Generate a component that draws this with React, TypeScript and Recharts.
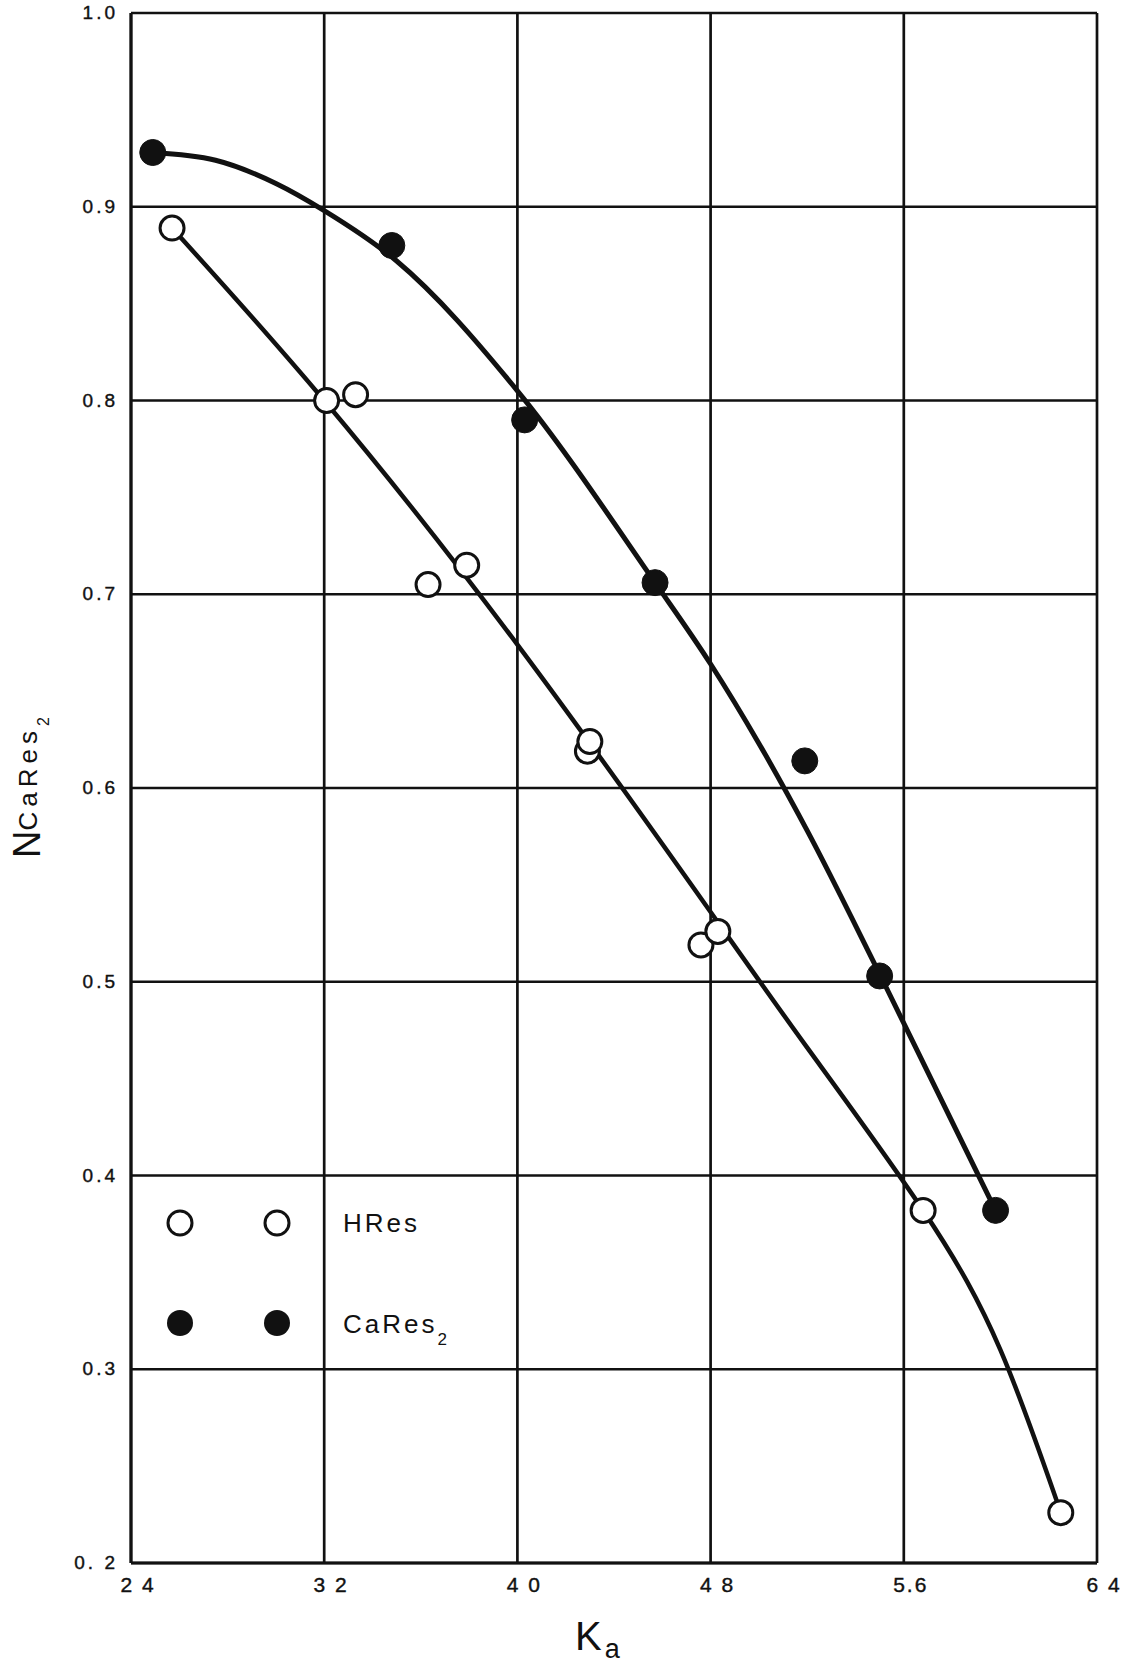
import React from 'react';
import { ComposedChart, Scatter, Line, XAxis, YAxis, CartesianGrid, Legend } from 'recharts';

const xTicks = [2.4, 3.2, 4.0, 4.8, 5.6, 6.4];
const xTickLabels = ['2 4', '3 2', '4 0', '4 8', '5.6', '6 4'];
const yTicks = [0.2, 0.3, 0.4, 0.5, 0.6, 0.7, 0.8, 0.9, 1.0];
const yTickLabels = ['0. 2', '0.3', '0.4', '0.5', '0.6', '0.7', '0.8', '0.9', '1.0'];

// measured points, open circles (HRes)
const hresPoints = [
  { x: 2.57, y: 0.889 },
  { x: 3.21, y: 0.8 },
  { x: 3.33, y: 0.803 },
  { x: 3.63, y: 0.705 },
  { x: 3.79, y: 0.715 },
  { x: 4.29, y: 0.619 },
  { x: 4.3, y: 0.624 },
  { x: 4.76, y: 0.519 },
  { x: 4.83, y: 0.526 },
  { x: 5.68, y: 0.382 },
  { x: 6.25, y: 0.226 },
];

// measured points, filled circles (CaRes2)
const caresPoints = [
  { x: 2.49, y: 0.928 },
  { x: 3.48, y: 0.88 },
  { x: 4.03, y: 0.79 },
  { x: 4.57, y: 0.706 },
  { x: 5.19, y: 0.614 },
  { x: 5.5, y: 0.503 },
  { x: 5.98, y: 0.382 },
];

// hand-drawn fitted curves
const hresCurve = [
  { x: 2.57, y: 0.889 },
  { x: 3.2, y: 0.8 },
  { x: 4.0, y: 0.674 },
  { x: 4.8, y: 0.536 },
  { x: 5.2, y: 0.466 },
  { x: 5.68, y: 0.382 },
  { x: 6.0, y: 0.31 },
  { x: 6.25, y: 0.226 },
];

const caresCurve = [
  { x: 2.49, y: 0.928 },
  { x: 2.75, y: 0.924 },
  { x: 3.0, y: 0.912 },
  { x: 3.2, y: 0.898 },
  { x: 3.5, y: 0.872 },
  { x: 4.0, y: 0.805 },
  { x: 4.57, y: 0.706 },
  { x: 4.8, y: 0.664 },
  { x: 5.0, y: 0.623 },
  { x: 5.2, y: 0.578 },
  { x: 5.5, y: 0.504 },
  { x: 5.98, y: 0.382 },
];

const INK = '#111';
const FONT = '"Liberation Sans", Arial, sans-serif';

const labelFor = (ticks: number[], labels: string[], v: number) => {
  const i = ticks.findIndex(t => Math.abs(t - v) < 1e-6);
  return i >= 0 ? labels[i] : String(v);
};

const XTick = ({ x, y, payload }: any) => (
  <text x={x + 7} y={y + 29} textAnchor="middle" fontSize={21} fontFamily={FONT} fill={INK} stroke={INK} strokeWidth={0.4} letterSpacing={2}>
    {labelFor(xTicks, xTickLabels, payload.value)}
  </text>
);

const YTick = ({ x, y, payload }: any) => (
  <text x={x} y={y + 6} textAnchor="end" fontSize={19} fontFamily={FONT} fill={INK} stroke={INK} strokeWidth={0.4} letterSpacing={3}>
    {labelFor(yTicks, yTickLabels, payload.value)}
  </text>
);

const OpenDot = ({ cx, cy }: any) => (
  <circle cx={cx} cy={cy} r={12} fill="#fff" stroke={INK} strokeWidth={3} />
);

const FilledDot = ({ cx, cy }: any) => (
  <circle cx={cx} cy={cy} r={13} fill={INK} stroke={INK} strokeWidth={1} />
);

const LegendBox = () => (
  <svg width={330} height={170} style={{ display: 'block' }}>
    <circle cx={30} cy={33} r={12} fill="#fff" stroke={INK} strokeWidth={3} />
    <circle cx={127} cy={33} r={12} fill="#fff" stroke={INK} strokeWidth={3} />
    <text x={193} y={42} fontSize={26} fontFamily={FONT} fill={INK} letterSpacing={3}>HRes</text>
    <circle cx={30} cy={133} r={13} fill={INK} />
    <circle cx={127} cy={133} r={13} fill={INK} />
    <text x={193} y={143} fontSize={26} fontFamily={FONT} fill={INK} letterSpacing={3}>
      CaRes
      <tspan fontSize={17} dy={12}>2</tspan>
    </text>
  </svg>
);

export default function App() {
  return (
    <div style={{ position: 'absolute', left: 0, top: 0, width: 1129, height: 1670, background: '#fff' }}>
      <ComposedChart
        width={1129}
        height={1670}
        margin={{ top: 13, right: 32, bottom: 67, left: 71 }}
      >
        <CartesianGrid stroke={INK} strokeWidth={2.7} />
        <XAxis
          type="number"
          dataKey="x"
          domain={[2.4, 6.4]}
          ticks={xTicks}
          height={40}
          tickSize={0}
          tickMargin={0}
          tickLine={false}
          axisLine={{ stroke: INK, strokeWidth: 3 }}
          tick={<XTick />}
          interval={0}
        />
        <YAxis
          type="number"
          domain={[0.2, 1.0]}
          ticks={yTicks}
          width={60}
          tickSize={0}
          tickMargin={13}
          tickLine={false}
          axisLine={{ stroke: INK, strokeWidth: 3 }}
          tick={<YTick />}
          interval={0}
        />
        <Line data={caresCurve} dataKey="y" type="monotone" stroke={INK} strokeWidth={5} dot={false} isAnimationActive={false} legendType="none" />
        <Line data={hresCurve} dataKey="y" type="natural" stroke={INK} strokeWidth={4.5} dot={false} isAnimationActive={false} legendType="none" />
        <Scatter name="HRes" data={hresPoints} dataKey="y" shape={<OpenDot />} isAnimationActive={false} />
        <Scatter name="CaRes2" data={caresPoints} dataKey="y" shape={<FilledDot />} isAnimationActive={false} />
        <Legend
          layout="horizontal"
          verticalAlign="middle"
          align="center"
          wrapperStyle={{ position: 'absolute', left: 150, top: 1190, width: 330, height: 170 }}
          content={() => <LegendBox />}
        />
      </ComposedChart>
      <svg width={1129} height={1670} style={{ position: 'absolute', left: 0, top: 0, pointerEvents: 'none' }}>
        <text x={575} y={1650} fontSize={40} fontFamily={FONT} fill={INK}>
          K
          <tspan fontSize={27} dx={3} dy={8}>a</tspan>
        </text>
        <text x={40} y={858} transform="rotate(-90 40 858)" fontFamily={FONT} fill={INK}>
          <tspan fontSize={38}>N</tspan>
          <tspan fontSize={26} dy={-3} letterSpacing={5}>CaRes</tspan>
          <tspan fontSize={16} dy={12}>2</tspan>
        </text>
      </svg>
    </div>
  );
}
